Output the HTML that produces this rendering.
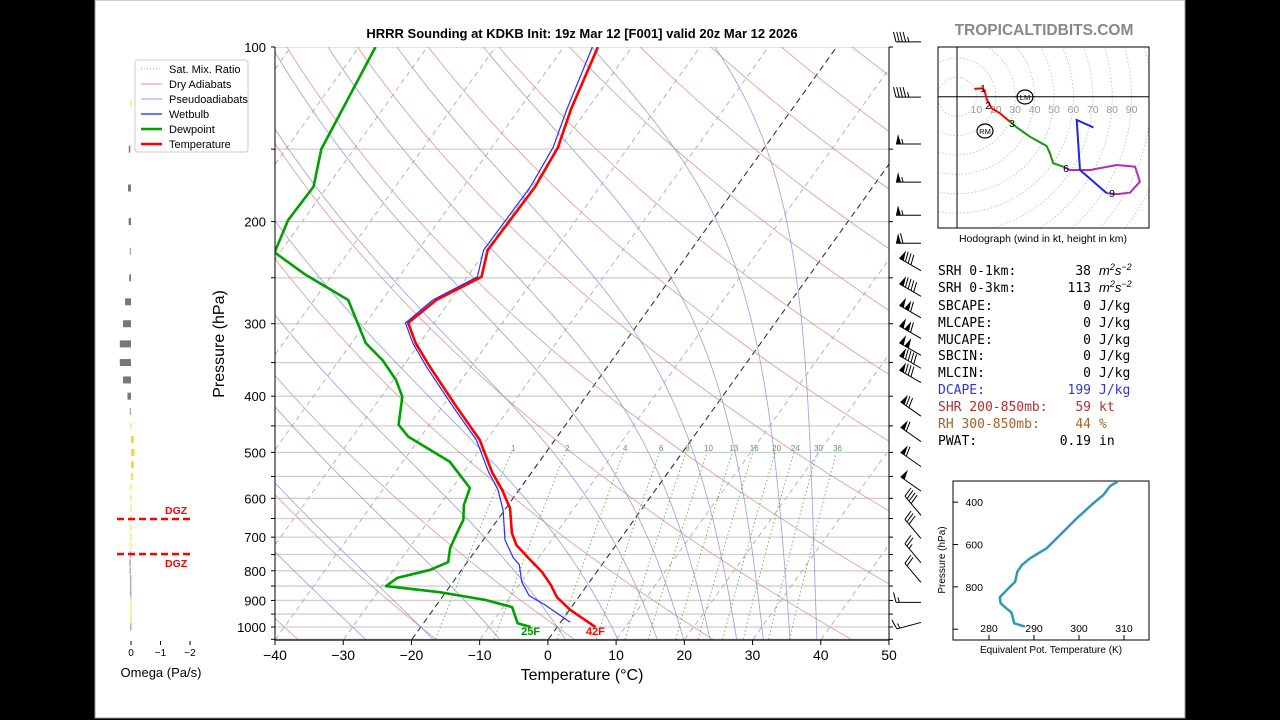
<!DOCTYPE html>
<html><head><meta charset="utf-8">
<style>
html,body{margin:0;padding:0;background:#000;}
svg{display:block;}
text{font-family:"Liberation Sans","DejaVu Sans",sans-serif;}
.mono{font-family:"DejaVu Sans Mono","Liberation Mono",monospace;font-size:13px;}
</style></head>
<body>
<svg id="svg" width="1280" height="720" viewBox="0 0 1280 720" xmlns="http://www.w3.org/2000/svg">
<rect x="0" y="0" width="1280" height="720" fill="#000"/>
<rect x="95" y="0" width="1090" height="718" fill="#fff" stroke="#999" stroke-width="1"/>
<defs>
<clipPath id="skewClip"><rect x="275" y="47" width="614" height="593"/></clipPath>
<clipPath id="hodoClip"><rect x="938" y="47" width="211" height="181"/></clipPath>
</defs>
<g id="bg" clip-path="url(#skewClip)"></g>
<g id="series" clip-path="url(#skewClip)"></g>
<g id="axes"></g>
<g id="barbs"></g>
<g id="omega"></g>
<g id="hodo"></g>
<g id="thetae"></g>

<text x="582" y="38" text-anchor="middle" font-size="13" font-weight="bold">HRRR Sounding at KDKB Init: 19z Mar 12 [F001] valid 20z Mar 12 2026</text>
<text x="1044" y="35" text-anchor="middle" font-size="15.5" font-weight="bold" fill="#888">TROPICALTIDBITS.COM</text>

<g>
<rect x="135" y="60" width="113" height="92" rx="3" fill="#fff" fill-opacity="0.85" stroke="#ccc"/>
<line x1="141" y1="69" x2="162" y2="69" stroke="#4a4" stroke-width="1" stroke-dasharray="1,2" opacity="0.7"/>
<text x="169" y="73" font-size="11">Sat. Mix. Ratio</text>
<line x1="141" y1="84" x2="162" y2="84" stroke="#e09090" stroke-width="1"/>
<text x="169" y="88" font-size="11">Dry Adiabats</text>
<line x1="141" y1="99" x2="162" y2="99" stroke="#9999e0" stroke-width="1"/>
<text x="169" y="103" font-size="11">Pseudoadiabats</text>
<line x1="141" y1="114" x2="162" y2="114" stroke="#4444ff" stroke-width="1.5"/>
<text x="169" y="118" font-size="11">Wetbulb</text>
<line x1="141" y1="129" x2="162" y2="129" stroke="#00a000" stroke-width="2.5"/>
<text x="169" y="133" font-size="11">Dewpoint</text>
<line x1="141" y1="144" x2="162" y2="144" stroke="#ff0000" stroke-width="2.5"/>
<text x="169" y="148" font-size="11">Temperature</text>
</g>

<g class="mono">
<text class="mono" x="938" y="275">SRH 0-1km:</text>
<text class="mono" x="1091" y="275" text-anchor="end">38</text>
<text x="1099" y="275" font-size="13" font-style="italic">m<tspan font-size="9" dy="-5">2</tspan><tspan dy="5">s</tspan><tspan font-size="9" dy="-5">−2</tspan></text>
<text class="mono" x="938" y="292">SRH 0-3km:</text>
<text class="mono" x="1091" y="292" text-anchor="end">113</text>
<text x="1099" y="292" font-size="13" font-style="italic">m<tspan font-size="9" dy="-5">2</tspan><tspan dy="5">s</tspan><tspan font-size="9" dy="-5">−2</tspan></text>
<text class="mono" x="938" y="310">SBCAPE:</text>
<text class="mono" x="1091" y="310" text-anchor="end">0</text>
<text class="mono" x="1099" y="310">J/kg</text>
<text class="mono" x="938" y="327">MLCAPE:</text>
<text class="mono" x="1091" y="327" text-anchor="end">0</text>
<text class="mono" x="1099" y="327">J/kg</text>
<text class="mono" x="938" y="344">MUCAPE:</text>
<text class="mono" x="1091" y="344" text-anchor="end">0</text>
<text class="mono" x="1099" y="344">J/kg</text>
<text class="mono" x="938" y="360">SBCIN:</text>
<text class="mono" x="1091" y="360" text-anchor="end">0</text>
<text class="mono" x="1099" y="360">J/kg</text>
<text class="mono" x="938" y="377">MLCIN:</text>
<text class="mono" x="1091" y="377" text-anchor="end">0</text>
<text class="mono" x="1099" y="377">J/kg</text>
<text class="mono" x="938" y="394" fill="#3333dd">DCAPE:</text>
<text class="mono" x="1091" y="394" text-anchor="end" fill="#3333dd">199</text>
<text class="mono" x="1099" y="394" fill="#3333dd">J/kg</text>
<text class="mono" x="938" y="411" fill="#b03030">SHR 200-850mb:</text>
<text class="mono" x="1091" y="411" text-anchor="end" fill="#b03030">59</text>
<text class="mono" x="1099" y="411" fill="#b03030">kt</text>
<text class="mono" x="938" y="428" fill="#a0652a">RH 300-850mb:</text>
<text class="mono" x="1091" y="428" text-anchor="end" fill="#a0652a">44</text>
<text class="mono" x="1099" y="428" fill="#a0652a">%</text>
<text class="mono" x="938" y="445">PWAT:</text>
<text class="mono" x="1091" y="445" text-anchor="end">0.19</text>
<text class="mono" x="1099" y="445">in</text>
</g>
</svg>
<script>
// ---------- data ----------
const tempPres=[1000,972,934,888,847,804,760,722,689,624,580,541,476,414,356,324,299,273,249,224,174,149,128,100];
const tempVals=[5.6,3.3,0.1,-3.2,-5.3,-8.0,-11.5,-14.6,-16.5,-19.4,-22.5,-25.8,-31.0,-38.3,-46.0,-50.6,-53.8,-52.1,-47.9,-49.8,-49.5,-50.3,-52.4,-55.0];
const dewPres=[1000,985,924,898,871,850,823,797,773,731,680,654,616,576,519,470,448,401,375,347,324,273,247,226,199,174,150,100];
const dewVals=[-3.9,-6.2,-8.7,-13.4,-20.9,-29.4,-28.6,-24.6,-22.8,-24.0,-24.7,-25.0,-26.5,-27.4,-33.1,-41.8,-44.5,-46.9,-49.6,-53.6,-57.9,-65.0,-73.9,-80.8,-82.2,-82.0,-84.8,-87.6];
const wbPres=[981,915,883,837,781,760,708,629,580,541,476,414,356,324,299,273,249,224,174,149,128,100];
const wbVals=[1.4,-4.2,-7.4,-9.9,-12.1,-13.7,-16.8,-20.2,-23.1,-26.3,-31.5,-38.8,-46.5,-51.0,-54.2,-52.6,-48.5,-50.4,-50.2,-51.0,-53.0,-55.8];
const pressureTicks=[100,200,300,400,500,600,700,800,900,1000];
const tempTicks=[-40,-30,-20,-10,0,10,20,30,40,50];
const mixRatios=[1,2,4,6,8,10,13,16,20,24,30,36];
const moistStarts=[-30,-20,-10,0,8,14,18,22,26,30,34,38];
const barbPres=[98,122,147,171,195,218,243,269,293,318,340,358,379,433,479,529,583,642,704,775,838,907,982];
const barbSpd=[45,45,55,55,55,60,80,90,110,110,100,90,80,70,60,60,50,40,30,25,20,15,15];
const barbDir=[270,270,270,270,270,270,300,300,300,300,300,300,300,305,305,305,305,320,320,320,320,270,255];
const omegaPres=[125,150,175,200,225,250,275,300,325,350,375,400,425,450,475,500,525,550,575,600,625,650,675,700,725,750,775,800,825,850,875,900,925,950,975,1000];
const omegaVals=[-0.03,0.05,0.1,0.08,0.02,0.06,0.2,0.27,0.38,0.38,0.27,0.12,0.02,-0.03,-0.1,-0.12,-0.1,-0.06,-0.04,-0.04,-0.04,-0.04,-0.04,-0.03,-0.02,0.02,0.03,0.03,0.01,0.01,0.01,-0.02,-0.02,-0.02,-0.01,0.01];
const hodoU=[8.9,12.7,14.1,15.3,17.9,22.2,27.3,30.8,37.6,46.2,47.9,49.6,54.8,58.2,68.6,82.3,91.8,94.3,89.2,82.3,77.2,63.4,61.7,70.3];
const hodoV=[4.0,4.3,3.5,-1.3,-6.0,-8.6,-12.9,-15.8,-20.6,-25.4,-29.2,-34.3,-36.1,-37.8,-37.8,-35.2,-36.1,-43.8,-49.5,-50.2,-49.8,-37.8,-12.0,-15.8];
const hodoSegStart=[0,6,12,20];
const hodoSegEnd=[6,12,20,23];
const hodoSegColor=['#ff0000','#119911','#b030b0','#2222ee'];
const thetaPres=[303,324,366,405,476,540,618,665,697,728,776,799,849,878,922,972,988];
const thetaVals=[308.6,306.9,305.4,303.2,299.5,296.5,292.8,289.1,287.3,286.3,285.8,284.7,282.4,282.6,285.0,285.6,288.0];
const thetaPTicks=[400,600,800,1000];
const thetaXTicks=[280,290,300,310];

// ---------- helpers ----------
const NS='http://www.w3.org/2000/svg';
function mk(tag,attrs,parent){const e=document.createElementNS(NS,tag);for(const k in attrs)e.setAttribute(k,attrs[k]);parent.appendChild(e);return e;}
function yP(p){return 47+580*(Math.log10(p)-2);}
function xT(T,p){return 275+(T+40)*6.822+0.717*(640-yP(p));}
function pathFrom(pts){return pts.map((q,i)=>(i?'L':'M')+q[0].toFixed(1)+','+q[1].toFixed(1)).join('');}
const bg=document.getElementById('bg'),series=document.getElementById('series'),axes=document.getElementById('axes');
const presGrid=[];for(let p=1050;p>=100;p-=5)presGrid.push(p);

for(let p=100;p<=1050;p+=50){
  const l=mk('line',{x1:275,x2:889,y1:yP(p),y2:yP(p),stroke:'#cfcfcf','stroke-width':1.3},bg);
  
  
}
for(let T=-130;T<=50;T+=10){
  const special=(T===0||T===-20);
  const l=mk('line',{x1:xT(T,1050),y1:yP(1050),x2:xT(T,100),y2:yP(100),stroke:special?'#333':'#b5b5b5','stroke-width':special?1.1:1,'stroke-dasharray':special?'6,4':'5,4'},bg);
  
  
}
for(let th=213.15;th<=573.15;th+=20){
  const pts=presGrid.map(p=>[xT(th*Math.pow(p/1000,0.2857)-273.15,p),yP(p)]);
  const l=mk('path',{d:pathFrom(pts),fill:'none',stroke:'#d98a8a','stroke-width':0.9,opacity:0.8},bg);
  
  
}
function es(Tc){return 6.112*Math.exp(17.67*Tc/(Tc+243.5));}
function dTdp(Tk,p){const Tc=Tk-273.15;const e=es(Tc);const rs=0.622*e/Math.max(p-e,1e-3);
  return (287*Tk+2.5e6*rs)/(1005+2.5e6*2.5e6*rs*0.622/(287*Tk*Tk))/p;}
moistStarts.forEach(t0=>{
  const up=[];let Tk=t0+273.15;
  for(let p=1000;p>=100;p-=2){up.push([xT(Tk-273.15,p),yP(p)]);Tk-=dTdp(Tk,p)*2;}
  let Tk2=t0+273.15;const down=[];
  for(let p=1000;p<=1050;p+=2){down.push([xT(Tk2-273.15,p),yP(p)]);Tk2+=dTdp(Tk2,p)*2;}
  const pts=down.reverse().concat(up);
  const l=mk('path',{d:pathFrom(pts),fill:'none',stroke:'#8f8fe0','stroke-width':0.9,opacity:0.8},bg);
  
  
});
function mixT(w,p){const e=w*p/(622+w);const a=Math.log(e/6.112);return 243.5*a/(17.67-a);}
mixRatios.forEach(w=>{
  const pts=[];for(let p=1050;p>=500;p-=10)pts.push([xT(mixT(w,p),p),yP(p)]);
  const l=mk('path',{d:pathFrom(pts),fill:'none',stroke:'#3a9a3a','stroke-width':0.9,'stroke-dasharray':'1.5,2.5',opacity:0.8},bg);
  
  
  const t=mk('text',{x:xT(mixT(w,491),491),y:451,'text-anchor':'middle','font-size':8,fill:'#5a9a5a'},bg);
  t.textContent=String(w);
  
  
});
function drawSeries(pres,vals,color,width,name){
  const pts=pres.map((p,i)=>[xT(vals[i],p),yP(p)]);
  const l=mk('path',{d:pathFrom(pts),fill:'none',stroke:color,'stroke-width':width,'stroke-linejoin':'round'},series);
  
  
}
drawSeries(wbPres,wbVals,'#2a2aff',1.2,'wetbulb-line');
drawSeries(dewPres,dewVals,'#00a000',2.6,'dewpoint-line');
drawSeries(tempPres,tempVals,'#ff0000',2.6,'temperature-line');
{
  const t1=mk('text',{x:xT(dewVals[0],1000),y:635,'text-anchor':'middle','font-size':11,'font-weight':'bold',fill:'#009000'},axes);
  t1.textContent=Math.round(dewVals[0]*9/5+32)+'F';
  
  
  const t2=mk('text',{x:xT(tempVals[0],1000),y:635,'text-anchor':'middle','font-size':11,'font-weight':'bold',fill:'#ff0000'},axes);
  t2.textContent=Math.round(tempVals[0]*9/5+32)+'F';
  
  
}
{
  const a=mk('line',{x1:275,y1:47,x2:275,y2:640,stroke:'#000','stroke-width':1},axes);
  
  const b=mk('line',{x1:889,y1:47,x2:889,y2:640,stroke:'#000','stroke-width':1},axes);
  
  const c=mk('line',{x1:275,y1:640,x2:889,y2:640,stroke:'#000','stroke-width':1.2},axes);
  
}
for(let p=100;p<=1050;p+=50){
  const tk=mk('line',{x1:271,x2:275,y1:yP(p),y2:yP(p),stroke:'#000'},axes);
  
  const tk2=mk('line',{x1:889,x2:893,y1:yP(p),y2:yP(p),stroke:'#000'},axes);
  
}
pressureTicks.forEach(p=>{
  const t=mk('text',{x:266,y:yP(p)+5,'text-anchor':'end','font-size':13},axes);
  t.textContent=String(p);
  
});
tempTicks.forEach(T=>{
  const x=275+(T+40)*6.822;
  const tk=mk('line',{x1:x,x2:x,y1:640,y2:645,stroke:'#000'},axes);
  
  const t=mk('text',{x:x,y:660,'text-anchor':'middle','font-size':14},axes);
  t.textContent=String(T).replace('-','\u2212');
  
});
{
  const t=mk('text',{x:582,y:680,'text-anchor':'middle','font-size':16},axes);
  t.textContent='Temperature (°C)';
  
  const t2=mk('text',{x:224,y:344,'text-anchor':'middle','font-size':16,transform:'rotate(-90 224 344)'},axes);
  t2.textContent='Pressure (hPa)';
  
}
// wind barbs
const barbs=document.getElementById('barbs');
barbPres.forEach((p,i)=>{
  const g=mk('g',{},barbs);
  
  
  const bx=921,by=yP(p),L=25;
  const r=barbDir[i]*Math.PI/180;
  const sx=Math.sin(r),sy=-Math.cos(r);
  const px=-sy,py=sx;
  const tx=bx+sx*L,ty=by+sy*L;
  mk('line',{x1:bx,y1:by,x2:tx,y2:ty,stroke:'#000','stroke-width':1},g);
  let spd=Math.round(barbSpd[i]/5)*5,d=0;
  const nP=Math.floor(spd/50);spd-=nP*50;const nF=Math.floor(spd/10);spd-=nF*10;const nH=spd>=5?1:0;
  for(let k=0;k<nP;k++){
    const ax=tx-sx*d,ay=ty-sy*d;
    const cx=ax-sx*5,cy=ay-sy*5;
    mk('polygon',{points:`${ax},${ay} ${cx},${cy} ${ax+px*10-sx*2},${ay+py*10-sy*2}`,fill:'#000'},g);
    d+=6;
  }
  if(nP>0&&nF+nH>0)d+=1;
  for(let k=0;k<nF;k++){
    const ax=tx-sx*d,ay=ty-sy*d;
    mk('line',{x1:ax,y1:ay,x2:ax+px*10+sx*2.5,y2:ay+py*10+sy*2.5,stroke:'#000','stroke-width':1},g);
    d+=3.2;
  }
  if(nH){
    if(nP+nF===0)d+=3.2;
    const ax=tx-sx*d,ay=ty-sy*d;
    mk('line',{x1:ax,y1:ay,x2:ax+px*5+sx*1.2,y2:ay+py*5+sy*1.2,stroke:'#000','stroke-width':1},g);
  }
});
// omega panel
const om=document.getElementById('omega');
function xO(v){return 131-v*29.5;}
omegaPres.forEach((p,i)=>{
  const v=omegaVals[i];const x0=xO(0),x1=xO(v);
  const w=Math.max(Math.abs(x1-x0),1.5);
  const r=mk('rect',{x:Math.min(x0,x1)-(Math.abs(x1-x0)<1.5?0.75:0),y:yP(p)-3.5,width:w,height:7,fill:v>0?'#777':'#f5dc2a',opacity:Math.abs(v)<0.05?0.6:1},om);
  
  
});
[0,-1,-2].forEach(v=>{
  const tk=mk('line',{x1:xO(v),x2:xO(v),y1:641,y2:645,stroke:'#000'},om);
  
  const t=mk('text',{x:xO(v),y:656,'text-anchor':'middle','font-size':10},om);
  t.textContent=String(v).replace('-','\u2212');
  
});
{
  const t=mk('text',{x:161,y:677,'text-anchor':'middle','font-size':13},om);
  t.textContent='Omega (Pa/s)';
  
  [[519,514],[554,567]].forEach(([y,ty])=>{
    const l=mk('line',{x1:117,x2:190,y1:y,y2:y,stroke:'#ff0000','stroke-width':2.5,'stroke-dasharray':'7,4'},om);
    
    const tt=mk('text',{x:165,y:ty,'font-size':10.5,'font-weight':'bold',fill:'#ff0000'},om);
    tt.textContent='DGZ';
    
  });
}
// hodograph
const hg=document.getElementById('hodo');
const ox=957,oy=96.7,ks=1.94;
function hx(u){return ox+u*ks;} function hy(v){return oy-v*ks;}
{
  const inner=mk('g',{'clip-path':'url(#hodoClip)'},hg);
  
  for(let r=10;r<=140;r+=10){
    const c=mk('circle',{cx:ox,cy:oy,r:r*ks,fill:'none',stroke:'#bbb','stroke-width':0.8,'stroke-dasharray':'1.5,2'},inner);
    
  }
  const a1=mk('line',{x1:938,x2:1149,y1:oy,y2:oy,stroke:'#000','stroke-width':1},inner);
  
  const a2=mk('line',{x1:ox,x2:ox,y1:47,y2:228,stroke:'#000','stroke-width':1},inner);
  
  for(let r=10;r<=90;r+=10){
    const t=mk('text',{x:hx(r),y:113,'text-anchor':'middle','font-size':10.5,fill:'#999'},inner);
    t.textContent=String(r);
    
  }
  hodoSegStart.forEach((s,k)=>{
    const pts=[];for(let i=s;i<=hodoSegEnd[k];i++)pts.push([hx(hodoU[i]),hy(hodoV[i])]);
    const l=mk('path',{d:pathFrom(pts),fill:'none',stroke:hodoSegColor[k],'stroke-width':2},inner);
    
  });
  [['1',983,92],['2',988,109],['3',1012,127],['6',1066,172],['9',1112,197]].forEach(([s,x,y])=>{
    const t=mk('text',{x:x,y:y,'text-anchor':'middle','font-size':10.5},inner);
    t.textContent=s;
    
  });
  [['LM',1025,97],['RM',985,131]].forEach(([s,x,y])=>{
    const c=mk('ellipse',{cx:x,cy:y,rx:8,ry:7,fill:'none',stroke:'#000','stroke-width':1.2},inner);
    
    const t=mk('text',{x:x,y:y+3,'text-anchor':'middle','font-size':7.5},inner);
    t.textContent=s;
    
  });
  const box=mk('rect',{x:938,y:47,width:211,height:181,fill:'none',stroke:'#000','stroke-width':1},hg);
  
  const cap=mk('text',{x:1043,y:242,'text-anchor':'middle','font-size':10.5},hg);
  cap.textContent='Hodograph (wind in kt, height in km)';
  
}
// theta-e panel
const te=document.getElementById('thetae');
function tx_(t){return 989+(t-280)*4.5;} function ty_(p){return 481+(p-300)*0.2117;}
{
  const box=mk('rect',{x:953,y:481,width:196,height:159,fill:'none',stroke:'#000','stroke-width':1},te);
  
  thetaPTicks.forEach(p=>{
    const tk=mk('line',{x1:953,x2:958,y1:ty_(p),y2:ty_(p),stroke:'#000'},te);
    
    if(p<1000){
      const t=mk('text',{x:983,y:ty_(p)+4,'text-anchor':'end','font-size':10.5},te);
      t.textContent=String(p);
      
    }
  });
  thetaXTicks.forEach(v=>{
    const tk=mk('line',{x1:tx_(v),x2:tx_(v),y1:635,y2:640,stroke:'#000'},te);
    
    const t=mk('text',{x:tx_(v),y:632,'text-anchor':'middle','font-size':10.5},te);
    t.textContent=String(v);
    
  });
  const pts=thetaPres.map((p,i)=>[tx_(thetaVals[i]),ty_(p)]);
  const l=mk('path',{d:pathFrom(pts),fill:'none',stroke:'#2f9ab4','stroke-width':2.5,'stroke-linejoin':'round'},te);
  
  const xt=mk('text',{x:1051,y:653,'text-anchor':'middle','font-size':10},te);
  xt.textContent='Equivalent Pot. Temperature (K)';
  
  const yt=mk('text',{x:945,y:560,'text-anchor':'middle','font-size':10,transform:'rotate(-90 945 560)'},te);
  yt.textContent='Pressure (hPa)';
  
}
</script>
</body></html>
